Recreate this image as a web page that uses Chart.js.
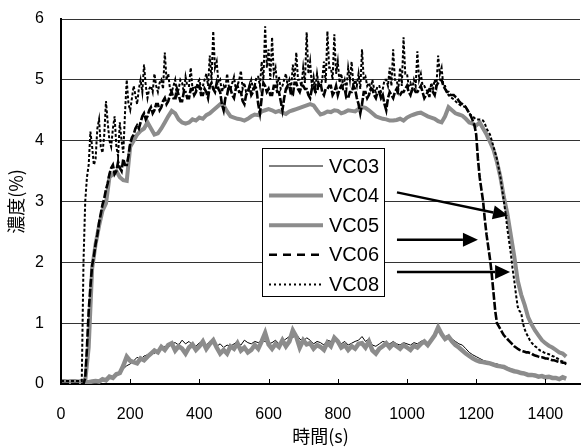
<!DOCTYPE html>
<html>
<head>
<meta charset="utf-8">
<title>濃度の時間変化</title>
<script src="https://cdn.jsdelivr.net/npm/chart.js@4.4.1/dist/chart.umd.min.js"></script>
<style>
  body { margin: 0; background: #fff; }
  canvas { display: block; }
</style>
</head>
<body>
<canvas id="concChart" width="581" height="447"></canvas>
<script>
// sampling grids: 10 s for VC03/04/05, 5 s for VC06/08 (0 .. 1460 s)
const times10 = [];
for (let t = 0; t <= 1460; t += 10) times10.push(t);
const times5 = [];
for (let t = 0; t <= 1460; t += 5) times5.push(t);

const xTicks = [0, 200, 400, 600, 800, 1000, 1200, 1400];
const yTicks = [0, 1, 2, 3, 4, 5, 6];
const seriesNames = ['VC03', 'VC04', 'VC05', 'VC06', 'VC08'];

// concentration (%), 10 s grid - one row per 100 s
const vc03 = [
  0, 0, 0, 0, 0, 0, 0, 0, 0, 0.02,
  0.03, 0.05, 0.06, 0.08, 0.1, 0.12, 0.15, 0.2, 0.25, 0.3,
  0.33, 0.38, 0.44, 0.4, 0.46, 0.48, 0.52, 0.5, 0.56, 0.58,
  0.62, 0.6, 0.66, 0.68, 0.64, 0.72, 0.66, 0.7, 0.64, 0.62,
  0.68, 0.66, 0.64, 0.7, 0.68, 0.62, 0.66, 0.6, 0.64, 0.62,
  0.66, 0.7, 0.64, 0.72, 0.68, 0.66, 0.7, 0.68, 0.72, 0.7,
  0.66, 0.68, 0.72, 0.66, 0.7, 0.74, 0.78, 0.76, 0.82, 0.74,
  0.7, 0.76, 0.72, 0.66, 0.7, 0.68, 0.64, 0.72, 0.7, 0.76,
  0.72, 0.66, 0.7, 0.64, 0.67, 0.7, 0.72, 0.78, 0.7, 0.74,
  0.64, 0.62, 0.66, 0.7, 0.68, 0.66, 0.7, 0.66, 0.64, 0.68,
  0.66, 0.64, 0.68, 0.66, 0.7, 0.72, 0.68, 0.74, 0.8, 0.86,
  0.84, 0.78, 0.8, 0.74, 0.7, 0.66, 0.64, 0.58, 0.52, 0.48,
  0.45, 0.42, 0.39, 0.37, 0.35, 0.34, 0.33, 0.31, 0.29, 0.27,
  0.25, 0.23, 0.21, 0.2, 0.19, 0.17, 0.16, 0.15, 0.14, 0.13,
  0.13, 0.12, 0.11, 0.1, 0.1, 0.09, 0.1
];
const vc04 = [
  0.05, 0.05, 0.04, 0.05, 0.05, 0.04, 0.05, 0.05, 0.6, 1.9,
  2.3, 2.6, 2.85, 2.97, 3.4, 3.45, 3.5, 3.4, 3.35, 3.34,
  3.9, 4.0, 4.1, 4.16, 4.2, 4.3, 4.2, 4.1, 4.12, 4.2,
  4.3, 4.4, 4.49, 4.45, 4.35, 4.3, 4.28, 4.3, 4.35, 4.33,
  4.38, 4.36, 4.42, 4.45, 4.5, 4.55, 4.6, 4.58, 4.48, 4.4,
  4.38, 4.36, 4.35, 4.33, 4.36, 4.4, 4.43, 4.42, 4.48, 4.5,
  4.52, 4.5, 4.47, 4.49, 4.46, 4.44, 4.48, 4.5, 4.52, 4.54,
  4.56, 4.58, 4.6, 4.58, 4.5, 4.43, 4.45, 4.48, 4.47, 4.5,
  4.49, 4.45, 4.47, 4.5, 4.49, 4.48, 4.52, 4.55, 4.54, 4.5,
  4.45, 4.4, 4.38, 4.36, 4.35, 4.33, 4.33, 4.34, 4.36, 4.33,
  4.38, 4.41, 4.43, 4.45, 4.46, 4.43, 4.4, 4.38, 4.36, 4.32,
  4.3, 4.4, 4.55, 4.5, 4.45, 4.43, 4.41, 4.36, 4.3, 4.28,
  4.25, 4.3, 4.2, 4.1, 3.98, 3.85, 3.65, 3.4, 3.07, 2.8,
  2.45, 2.1, 1.7, 1.47, 1.3, 1.1, 0.98, 0.88, 0.8, 0.72,
  0.67, 0.63, 0.6, 0.56, 0.52, 0.5, 0.45
];
const vc05 = [
  0.03, 0.03, 0.03, 0.03, 0.03, 0.03, 0.03, 0.03, 0.03, 0.04,
  0.05, 0.04, 0.08, 0.06, 0.12, 0.1, 0.16, 0.18, 0.3, 0.45,
  0.38, 0.36, 0.34, 0.42, 0.39, 0.45, 0.5, 0.55, 0.52, 0.61,
  0.56, 0.64, 0.67, 0.55, 0.62, 0.58, 0.5, 0.6, 0.65, 0.56,
  0.62, 0.7, 0.58, 0.66, 0.72, 0.6, 0.5, 0.56, 0.5, 0.62,
  0.58, 0.67, 0.55, 0.6, 0.52, 0.56, 0.64, 0.58, 0.7, 0.84,
  0.65, 0.58, 0.66, 0.61, 0.72, 0.62, 0.7, 0.88, 0.78, 0.6,
  0.72, 0.65, 0.67, 0.58, 0.64, 0.61, 0.56, 0.68, 0.62, 0.76,
  0.7, 0.6, 0.64, 0.56, 0.62, 0.58, 0.66, 0.67, 0.6, 0.7,
  0.55, 0.5, 0.58, 0.62, 0.67, 0.6, 0.66, 0.62, 0.58, 0.64,
  0.6, 0.56, 0.63, 0.6, 0.66, 0.7, 0.64, 0.72, 0.8, 0.93,
  0.82, 0.74, 0.78, 0.7, 0.64, 0.6, 0.55, 0.5, 0.46, 0.42,
  0.39, 0.37, 0.36, 0.35, 0.34, 0.32, 0.3, 0.29, 0.28, 0.25,
  0.23, 0.21, 0.2, 0.18, 0.17, 0.15, 0.15, 0.14, 0.12, 0.13,
  0.11, 0.12, 0.1, 0.1, 0.08, 0.11, 0.09
];

// concentration (%), 5 s grid - one row per 100 s
const vc06 = [
  0, 0, 0, 0, 0, 0, 0, 0, 0, 0, 0, 0, 0, 0, 0.1, 0.6, 1.2, 1.6, 1.95, 2.1,
  2.3, 2.45, 2.65, 2.8, 2.95, 3.05, 3.2, 3.3, 3.45, 3.55, 3.6, 3.45, 3.5, 3.65, 3.55, 3.5, 3.7, 3.6, 3.6, 3.75,
  3.95, 4.05, 4.1, 4.2, 4.25, 4.2, 4.3, 4.4, 4.45, 4.35, 4.4, 4.5, 4.55, 4.45, 4.5, 4.6, 4.6, 4.5, 4.55, 4.65,
  4.7, 4.6, 4.65, 4.75, 4.8, 4.7, 4.7, 4.85, 4.75, 4.65, 4.65, 4.8, 4.8, 4.7, 4.7, 4.85, 4.85, 4.75, 4.8, 4.9,
  4.9, 4.75, 4.75, 4.85, 4.8, 4.7, 4.9, 4.95, 4.85, 4.8, 4.95, 4.85, 4.8, 4.6, 4.5, 4.7, 4.75, 4.9, 4.85, 4.75,
  4.7, 4.85, 4.9, 4.8, 4.8, 4.65, 4.6, 4.75, 4.8, 4.9, 4.75, 4.8, 4.9, 4.85, 4.6, 4.45, 4.7, 4.95, 4.9, 4.8,
  4.85, 4.75, 4.75, 4.9, 4.9, 4.8, 4.8, 4.65, 4.5, 4.7, 4.85, 4.9, 4.9, 4.75, 4.75, 4.95, 4.95, 4.85, 4.8, 4.9,
  4.9, 4.85, 4.85, 4.75, 4.7, 4.85, 4.9, 4.8, 4.8, 4.95, 4.95, 4.8, 4.75, 4.85, 4.85, 4.9, 4.9, 4.75, 4.8, 4.9,
  4.75, 4.85, 4.9, 4.85, 4.85, 4.7, 4.7, 4.8, 4.8, 4.9, 4.85, 4.7, 4.6, 4.45, 4.6, 4.8, 4.8, 4.7, 4.75, 4.85,
  4.85, 4.75, 4.7, 4.8, 4.8, 4.7, 4.75, 4.6, 4.5, 4.7, 4.8, 4.75, 4.7, 4.8, 4.85, 4.75, 4.75, 4.8, 4.8, 4.85,
  4.9, 4.8, 4.75, 4.85, 4.85, 4.8, 4.8, 4.85, 4.9, 4.8, 4.7, 4.75, 4.8, 4.85, 4.85, 4.8, 4.75, 4.9, 4.95, 5.0,
  5.0, 4.9, 4.85, 4.8, 4.8, 4.75, 4.75, 4.75, 4.72, 4.7, 4.65, 4.62, 4.6, 4.58, 4.55, 4.5, 4.45, 4.4, 4.33, 4.25,
  4.1, 3.7, 3.4, 3.2, 3.0, 2.7, 2.45, 2.25, 2.05, 1.8, 1.5, 1.2, 1.0, 0.95, 0.9, 0.85, 0.8, 0.77, 0.74, 0.71,
  0.68, 0.65, 0.62, 0.6, 0.58, 0.56, 0.55, 0.54, 0.53, 0.52, 0.52, 0.51, 0.5, 0.48, 0.47, 0.46, 0.45, 0.44, 0.44, 0.43,
  0.42, 0.42, 0.41, 0.4, 0.39, 0.39, 0.38, 0.37, 0.36, 0.36, 0.35, 0.35, 0.34
];
const vc08 = [
  0.05, 0.05, 0.05, 0.05, 0.05, 0.05, 0.05, 0.05, 0.05, 0.05, 0.05, 0.05, 0.05, 2.0, 3.0, 3.4, 3.6, 4.15, 3.9, 3.6,
  3.7, 4.2, 4.35, 3.9, 3.8, 4.1, 4.65, 4.3, 4.0, 3.9, 4.2, 4.4, 3.9, 3.75, 4.3, 4.0, 3.8, 4.45, 5.0, 4.6,
  4.5, 4.7, 4.9, 4.75, 4.6, 4.85, 5.0, 4.8, 5.25, 4.9, 4.7, 4.85, 4.9, 4.8, 5.1, 4.9, 4.8, 4.95, 5.0, 4.85,
  5.45, 5.0, 5.1, 4.85, 4.8, 4.9, 5.0, 4.75, 4.85, 5.0, 4.95, 4.8, 5.05, 4.9, 4.9, 5.2, 4.85, 4.9, 4.85, 4.95,
  5.0, 4.85, 4.9, 5.0, 5.1, 4.9, 5.4, 5.0, 5.8, 5.2, 5.3, 4.95, 5.0, 4.8, 4.9, 4.85, 5.1, 4.9, 4.85, 4.95,
  5.05, 4.85, 4.9, 5.0, 5.15, 4.85, 4.95, 4.8, 4.8, 4.9, 5.0, 4.85, 4.9, 5.05, 5.05, 4.9, 5.3, 5.0, 5.88, 5.2,
  5.5, 5.0, 5.7, 5.1, 5.2, 4.9, 5.05, 4.85, 4.9, 5.0, 5.1, 4.9, 5.0, 4.85, 5.25, 5.0, 5.45, 5.0, 5.0, 4.9,
  5.2, 4.95, 5.78, 5.1, 5.3, 4.9, 5.05, 4.85, 5.1, 4.9, 4.9, 5.0, 5.3, 4.95, 5.8, 5.2, 5.2, 5.0, 5.75, 5.1,
  5.3, 4.95, 5.1, 4.9, 5.0, 4.85, 5.2, 5.0, 5.3, 4.9, 5.0, 4.9, 5.1, 4.85, 5.5, 5.0, 5.05, 4.9, 4.95, 4.85,
  5.0, 4.85, 4.8, 4.9, 4.9, 4.8, 4.85, 5.0, 5.0, 4.9, 5.2, 4.9, 5.5, 5.0, 5.0, 4.85, 5.2, 4.9, 5.7, 5.1,
  5.1, 4.9, 4.95, 4.85, 5.0, 4.9, 5.47, 5.0, 5.1, 4.9, 4.9, 4.85, 4.8, 4.7, 4.95, 4.85, 5.0, 4.9, 5.4, 5.1,
  5.2, 4.9, 4.9, 4.8, 4.75, 4.72, 4.7, 4.68, 4.65, 4.62, 4.6, 4.58, 4.57, 4.56, 4.55, 4.5, 4.45, 4.42, 4.4, 4.37,
  4.35, 4.35, 4.35, 4.34, 4.33, 4.28, 4.2, 4.15, 4.1, 4.0, 3.9, 3.8, 3.7, 3.55, 3.4, 3.2, 3.0, 2.8, 2.55, 2.35,
  2.15, 1.9, 1.7, 1.47, 1.27, 1.2, 1.17, 1.0, 0.9, 0.83, 0.78, 0.72, 0.68, 0.65, 0.62, 0.6, 0.57, 0.55, 0.54, 0.52,
  0.51, 0.5, 0.49, 0.48, 0.46, 0.45, 0.43, 0.42, 0.4, 0.38, 0.37, 0.35, 0.32
];

const gray = '#8c8c8c';
const tickFont = { family: '"Liberation Sans", Arial, sans-serif', size: 16 };
const jpFont = { family: '"Noto Sans CJK JP", sans-serif', size: 18 };

function toPoints(times, values) {
    return times.map((t, i) => ({ x: t, y: values[i] }));
}

// arrows from the legend to the falling edges, in data units [t0, c0, t1, c1]
const arrows = [
    [971, 3.15, 1292, 2.77],
    [971, 2.37, 1205, 2.37],
    [971, 1.84, 1298, 1.84]
];

// small tick marks pointing up from the time axis
const insideTicks = {
    id: 'insideTicks',
    afterDraw(chart) {
        const { ctx, chartArea, scales: { x } } = chart;
        ctx.save();
        ctx.strokeStyle = '#000';
        ctx.lineWidth = 1;
        xTicks.forEach(v => {
            const px = Math.round(x.getPixelForValue(v)) + 0.5;
            ctx.beginPath();
            ctx.moveTo(px, chartArea.bottom);
            ctx.lineTo(px, chartArea.bottom - 5);
            ctx.stroke();
        });
        ctx.restore();
    }
};

// boxed legend inside the plot plus the arrows
const boxLegend = {
    id: 'boxLegend',
    afterDraw(chart) {
        const { ctx, scales: { x, y } } = chart;
        ctx.save();
        ctx.fillStyle = '#fff';
        ctx.fillRect(262, 148, 122, 148);
        ctx.strokeStyle = '#000';
        ctx.lineWidth = 1;
        ctx.strokeRect(262.5, 148.5, 122, 148);

        ctx.font = '20px "Liberation Sans", Arial, sans-serif';
        ctx.textBaseline = 'middle';
        chart.data.datasets.forEach((ds, i) => {
            const ly = 166 + i * 29.6;
            ctx.beginPath();
            ctx.setLineDash(ds.legendDash || []);
            ctx.strokeStyle = ds.borderColor;
            ctx.lineWidth = Math.min(ds.borderWidth, 4);
            ctx.moveTo(269, ly);
            ctx.lineTo(323, ly);
            ctx.stroke();
            ctx.setLineDash([]);
            ctx.fillStyle = '#000';
            ctx.fillText(ds.label, 329, ly + 1);
        });

        ctx.strokeStyle = '#000';
        ctx.fillStyle = '#000';
        ctx.lineWidth = 2.5;
        arrows.forEach(a => {
            const x0 = x.getPixelForValue(a[0]), y0 = y.getPixelForValue(a[1]);
            const x1 = x.getPixelForValue(a[2]), y1 = y.getPixelForValue(a[3]);
            const ang = Math.atan2(y1 - y0, x1 - x0);
            const len = 15, half = 7;
            const bx = x1 - len * Math.cos(ang), by = y1 - len * Math.sin(ang);
            ctx.beginPath();
            ctx.moveTo(x0, y0);
            ctx.lineTo(bx, by);
            ctx.stroke();
            ctx.beginPath();
            ctx.moveTo(x1, y1);
            ctx.lineTo(bx + half * Math.sin(ang), by - half * Math.cos(ang));
            ctx.lineTo(bx - half * Math.sin(ang), by + half * Math.cos(ang));
            ctx.closePath();
            ctx.fill();
        });
        ctx.restore();
    }
};

const ctx = document.getElementById('concChart').getContext('2d');
new Chart(ctx, {
    type: 'line',
    data: {
        datasets: [
            { label: seriesNames[0], data: toPoints(times10, vc03), borderColor: '#000', borderWidth: 1, order: 4 },
            { label: seriesNames[1], data: toPoints(times10, vc04), borderColor: gray, borderWidth: 4, order: 3 },
            { label: seriesNames[2], data: toPoints(times10, vc05), borderColor: gray, borderWidth: 4.5, order: 3 },
            { label: seriesNames[3], data: toPoints(times5, vc06), borderColor: '#000', borderWidth: 2.6,
              borderDash: [8, 2], legendDash: [8, 6], order: 1 },
            { label: seriesNames[4], data: toPoints(times5, vc08), borderColor: '#000', borderWidth: 2,
              borderDash: [3, 2], legendDash: [2, 3], order: 2 }
        ]
    },
    options: {
        responsive: false,
        animation: false,
        devicePixelRatio: 1,
        layout: { padding: { top: 19, right: 1, left: 0, bottom: 0 } },
        elements: {
            point: { radius: 0 },
            line: { tension: 0, fill: false }
        },
        plugins: {
            legend: { display: false },
            tooltip: { enabled: false }
        },
        scales: {
            x: {
                type: 'linear',
                min: 0,
                max: 1500,
                afterBuildTicks: s => { s.ticks = xTicks.map(v => ({ value: v })); },
                afterFit: s => { s.height = 63; },
                grid: { display: false },
                border: { display: true, color: '#000', width: 2 },
                ticks: { color: '#000', font: tickFont, padding: 13, maxRotation: 0, callback: v => String(v) },
                title: { display: true, text: '時間(s)', color: '#000', font: jpFont, padding: { top: 0, bottom: 0 } }
            },
            y: {
                min: 0,
                max: 6,
                afterBuildTicks: s => { s.ticks = yTicks.map(v => ({ value: v })); },
                // fixed axis width; label overhang handled by layout padding instead
                afterFit: s => { s.width = 61; s.paddingTop = 0; s.paddingBottom = 0; },
                grid: { color: '#333', lineWidth: 1, drawTicks: false },
                border: { display: true, color: '#000', width: 2 },
                ticks: { color: '#000', font: tickFont, padding: 17, callback: v => String(v) },
                title: { display: true, text: '濃度(%)', color: '#000', font: jpFont, padding: { top: 5, bottom: 0 } }
            }
        }
    },
    plugins: [insideTicks, boxLegend]
});
</script>
</body>
</html>
